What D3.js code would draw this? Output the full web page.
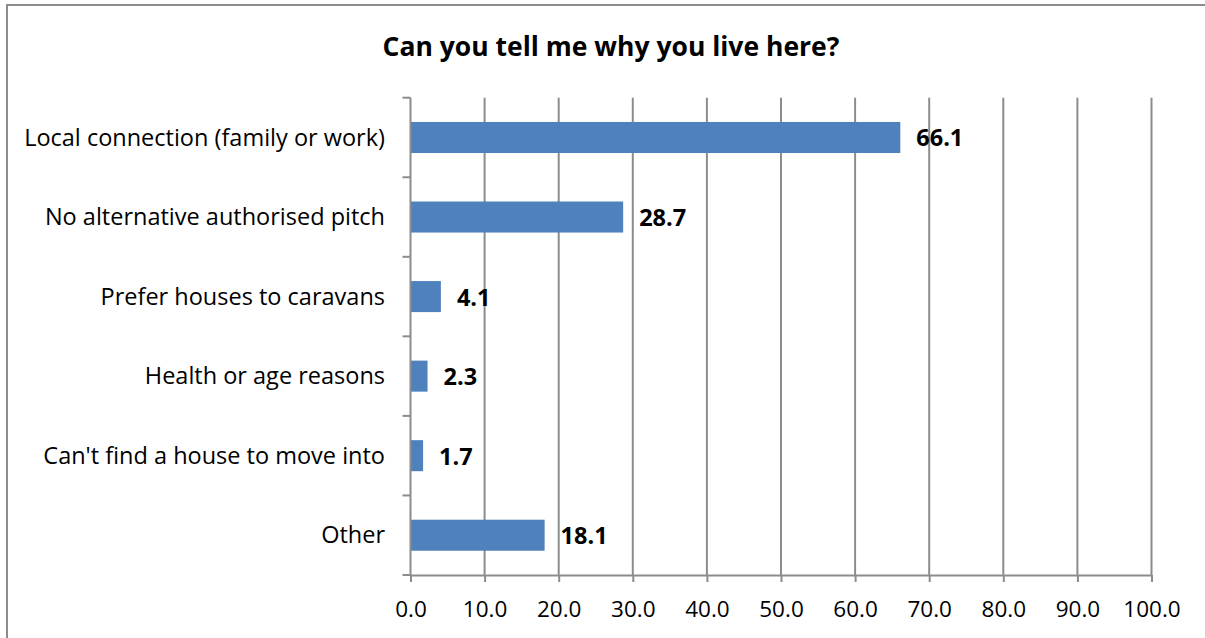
<!DOCTYPE html>
<html><head><meta charset="utf-8">
<script src="https://cdn.jsdelivr.net/npm/d3@7"></script>
<style>body{margin:0;background:#fff}svg{display:block}text{font-family:"Open Sans",sans-serif}</style>
</head><body><svg id="c" width="1205" height="638"></svg>
<script>
const categories = ["Local connection (family or work)","No alternative authorised pitch","Prefer houses to caravans","Health or age reasons","Can't find a house to move into","Other"];
const values = [66.1,28.7,4.1,2.3,1.7,18.1];
const xTicks = [0,10,20,30,40,50,60,70,80,90,100];
const title = "Can you tell me why you live here?";

const svg = d3.select("#c");
svg.append("rect").attr("x",7).attr("y",5).attr("width",1205).attr("height",640).attr("fill","#fff").attr("stroke","#8c8c8c").attr("stroke-width",2);

const L=410.5,R=1151.5,T=97.7,B=575;
const x = d3.scaleLinear().domain([0,100]).range([L,R]);
const y = d3.scaleBand().domain(categories).range([T,B]).paddingInner(0.61).paddingOuter(0.305);

svg.append("text").attr("x",611).attr("y",56).attr("text-anchor","middle").attr("font-weight","bold").attr("font-size",26.5).attr("fill","#000").text(title);

svg.append("g").selectAll("line").data(xTicks.slice(1)).join("line")
 .attr("x1",d=>x(d)).attr("x2",d=>x(d)).attr("y1",T).attr("y2",B).attr("stroke","#8c8c8c").attr("stroke-width",2);

svg.append("g").selectAll("rect").data(values).join("rect")
 .attr("x",x(0)).attr("y",(d,i)=>y(categories[i])).attr("width",d=>x(d)-x(0)).attr("height",y.bandwidth()).attr("fill","#4f81bd");

const xa = svg.append("g").attr("transform",`translate(0,${B})`).call(d3.axisBottom(x).tickValues(xTicks).tickFormat(d3.format(".1f")).tickSize(7).tickSizeOuter(0));
xa.select(".domain").attr("stroke","#8c8c8c").attr("stroke-width",2);
xa.selectAll(".tick line").attr("stroke","#8c8c8c").attr("stroke-width",2);
xa.selectAll(".tick text").attr("font-size",22.5).attr("fill","#000").attr("dy",0).attr("y",42).attr("font-family","Open Sans");

const bounds = d3.range(categories.length+1).map(i=>T+(B-T)*i/categories.length);
svg.append("line").attr("x1",L).attr("x2",L).attr("y1",T).attr("y2",B).attr("stroke","#8c8c8c").attr("stroke-width",2);
svg.append("g").selectAll("line").data(bounds).join("line").attr("x1",L-8).attr("x2",L).attr("y1",d=>d).attr("y2",d=>d).attr("stroke","#8c8c8c").attr("stroke-width",2);
svg.append("g").selectAll("text").data(categories).join("text")
 .attr("x",385).attr("y",d=>y(d)+y.bandwidth()/2).attr("dy","0.35em").attr("text-anchor","end").attr("font-size",23.5).attr("fill","#000").text(d=>d);

svg.append("g").selectAll("text").data(values).join("text")
 .attr("x",d=>x(d)+16).attr("y",(d,i)=>y(categories[i])+y.bandwidth()/2).attr("dy","0.38em").attr("font-weight","bold").attr("font-size",23.5).attr("fill","#000").text(d=>d3.format(".1f")(d));
</script></body></html>
